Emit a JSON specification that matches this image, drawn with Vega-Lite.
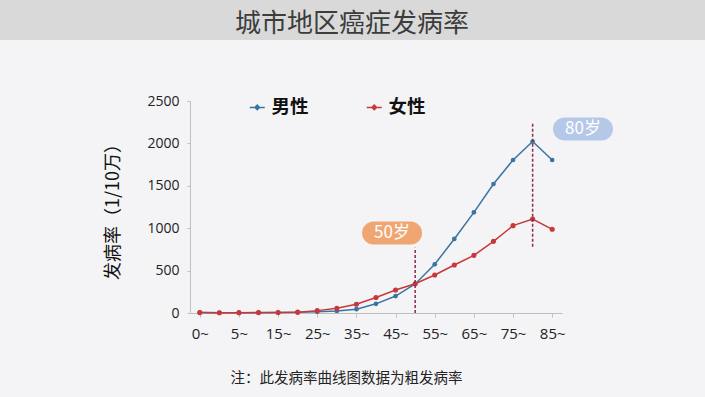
{
  "$schema": "https://vega.github.io/schema/vega-lite/v6.json",
  "width": 372,
  "height": 212,
  "autosize": {"type": "none"},
  "padding": {"left": 190, "top": 101, "right": 143, "bottom": 84},
  "background": "#f4f4f6",
  "config": {"view": {"stroke": null}, "font": "Noto Sans CJK SC"},
  "datasets": {
    "rates": [
      {"age": "0~", "i": 0, "sex": "男性", "v": 5}, {"age": "1~", "i": 1, "sex": "男性", "v": 3}, {"age": "5~", "i": 2, "sex": "男性", "v": 3}, {"age": "10~", "i": 3, "sex": "男性", "v": 4}, {"age": "15~", "i": 4, "sex": "男性", "v": 5}, {"age": "20~", "i": 5, "sex": "男性", "v": 8}, {"age": "25~", "i": 6, "sex": "男性", "v": 15}, {"age": "30~", "i": 7, "sex": "男性", "v": 25}, {"age": "35~", "i": 8, "sex": "男性", "v": 45}, {"age": "40~", "i": 9, "sex": "男性", "v": 108}, {"age": "45~", "i": 10, "sex": "男性", "v": 200}, {"age": "50~", "i": 11, "sex": "男性", "v": 342}, {"age": "55~", "i": 12, "sex": "男性", "v": 574}, {"age": "60~", "i": 13, "sex": "男性", "v": 873}, {"age": "65~", "i": 14, "sex": "男性", "v": 1187}, {"age": "70~", "i": 15, "sex": "男性", "v": 1521}, {"age": "75~", "i": 16, "sex": "男性", "v": 1804}, {"age": "80~", "i": 17, "sex": "男性", "v": 2022}, {"age": "85~", "i": 18, "sex": "男性", "v": 1804},
      {"age": "0~", "i": 0, "sex": "女性", "v": 5}, {"age": "1~", "i": 1, "sex": "女性", "v": 3}, {"age": "5~", "i": 2, "sex": "女性", "v": 4}, {"age": "10~", "i": 3, "sex": "女性", "v": 5}, {"age": "15~", "i": 4, "sex": "女性", "v": 6}, {"age": "20~", "i": 5, "sex": "女性", "v": 10}, {"age": "25~", "i": 6, "sex": "女性", "v": 28}, {"age": "30~", "i": 7, "sex": "女性", "v": 55}, {"age": "35~", "i": 8, "sex": "女性", "v": 104}, {"age": "40~", "i": 9, "sex": "女性", "v": 183}, {"age": "45~", "i": 10, "sex": "女性", "v": 271}, {"age": "50~", "i": 11, "sex": "女性", "v": 345}, {"age": "55~", "i": 12, "sex": "女性", "v": 448}, {"age": "60~", "i": 13, "sex": "女性", "v": 566}, {"age": "65~", "i": 14, "sex": "女性", "v": 680}, {"age": "70~", "i": 15, "sex": "女性", "v": 845}, {"age": "75~", "i": 16, "sex": "女性", "v": 1030}, {"age": "80~", "i": 17, "sex": "女性", "v": 1108}, {"age": "85~", "i": 18, "sex": "女性", "v": 987}
    ],
    "notes": [
      {"age": "50~", "i": 11, "from": 0, "to": 770, "lab": "50岁", "lx": 9.82, "ly": 943},
      {"age": "80~", "i": 17, "from": 782, "to": 2256, "lab": "80岁", "lx": 19.57, "ly": 2170}
    ],
    "heading": [
      {"text": "城市地区癌症发病率", "x1": -10.3, "x2": 26, "y1": 3219, "y2": 3691, "tx": 7.77, "ty": 3408}
    ]
  },
  "layer": [
    {
      "data": {"name": "heading"},
      "mark": {"type": "rect", "color": "#d9d9d9"},
      "encoding": {
        "x": {"field": "x1", "type": "quantitative", "scale": {"domain": [-0.5, 18.5], "nice": false, "zero": false}},
        "x2": {"field": "x2"},
        "y": {"field": "y1", "type": "quantitative", "scale": {"domain": [0, 2500], "nice": false}},
        "y2": {"field": "y2"}
      }
    },
    {
      "data": {"name": "heading"},
      "mark": {"type": "text", "fontSize": 26, "color": "#3c3c3c", "baseline": "middle", "align": "center"},
      "encoding": {
        "x": {"field": "tx", "type": "quantitative"},
        "y": {"field": "ty", "type": "quantitative"},
        "text": {"field": "text"}
      }
    },
    {
      "data": {"name": "rates"},
      "transform": [{"filter": "datum.sex === '男性'"}],
      "mark": {"type": "line", "strokeWidth": 1.5, "point": {"filled": true, "size": 22}},
      "encoding": {
        "x": {"field": "i", "type": "quantitative", "scale": {"domain": [-0.5, 18.5], "nice": false, "zero": false},
          "axis": {"values": [0,1,2,3,4,5,6,7,8,9,10,11,12,13,14,15,16,17,18],
            "labelExpr": "datum.value % 2 == 0 ? ['0~','1~','5~','10~','15~','20~','25~','30~','35~','40~','45~','50~','55~','60~','65~','70~','75~','80~','85~'][datum.value] : ''",
            "labelOverlap": false, "labelFlush": false, "grid": false, "domainColor": "#bfbfbf", "tickColor": "#bfbfbf", "tickSize": 4,
            "labelFont": "Open Sans", "labelFontSize": 15, "labelColor": "#222", "labelPadding": 9,
            "title": "注：此发病率曲线图数据为粗发病率", "titleFontSize": 14.5, "titleFontWeight": "normal", "titleColor": "#222", "titlePadding": 30, "titleX": 156}},
        "y": {"field": "v", "type": "quantitative", "scale": {"domain": [0, 2500], "nice": false},
          "axis": {"values": [0, 500, 1000, 1500, 2000, 2500], "format": "d", "grid": false, "domainColor": "#bfbfbf", "tickColor": "#bfbfbf", "tickSize": 3,
            "labelFont": "Open Sans", "labelFontSize": 14, "labelColor": "#222", "labelPadding": 8,
            "title": "发病率（1/10万）", "titleFontSize": 18, "titleFontWeight": "normal", "titleColor": "#111", "titlePadding": 24}},
        "color": {"field": "sex", "type": "nominal", "scale": {"domain": ["男性", "女性"], "range": ["#3a74a0", "#c8383a"]},
          "legend": {"orient": "none", "legendX": 58, "legendY": -3, "direction": "horizontal", "title": null,
            "symbolType": "M-1,0L-0.3,0M0.3,0L1,0M0,-0.3L0.3,0L0,0.3L-0.3,0Z", "symbolSize": 225, "symbolStrokeWidth": 1.5,
            "labelFontSize": 18.5, "labelFontWeight": "bold", "labelColor": "#111", "labelOffset": 5, "columnPadding": 54}}
      }
    },
    {
      "data": {"name": "rates"},
      "transform": [{"filter": "datum.sex === '女性'"}],
      "mark": {"type": "line", "strokeWidth": 1.5, "point": {"filled": true, "size": 26}},
      "encoding": {
        "x": {"field": "i", "type": "quantitative"},
        "y": {"field": "v", "type": "quantitative"},
        "color": {"field": "sex", "type": "nominal"}
      }
    },
    {
      "data": {"name": "notes"},
      "mark": {"type": "rule", "color": "#8a2b4e", "strokeWidth": 1.5, "strokeDash": [3, 2]},
      "encoding": {
        "x": {"field": "i", "type": "quantitative"},
        "y": {"field": "from", "type": "quantitative"},
        "y2": {"field": "to"}
      }
    },
    {
      "data": {"name": "notes"},
      "mark": {"type": "point", "filled": true, "opacity": 1, "size": 3600, "shape": "M-0.615,-0.385L0.615,-0.385A0.385,0.385 0 0 1 0.615,0.385L-0.615,0.385A0.385,0.385 0 0 1 -0.615,-0.385Z"},
      "encoding": {
        "x": {"field": "lx", "type": "quantitative"},
        "y": {"field": "ly", "type": "quantitative"},
        "fill": {"field": "lab", "type": "nominal", "scale": {"domain": ["50岁", "80岁"], "range": ["#f0a672", "#b6c8e8"]}, "legend": null}
      }
    },
    {
      "data": {"name": "notes"},
      "mark": {"type": "text", "color": "#ffffff", "fontSize": 17, "baseline": "middle", "align": "center"},
      "encoding": {
        "x": {"field": "lx", "type": "quantitative"},
        "y": {"field": "ly", "type": "quantitative"},
        "text": {"field": "lab"}
      }
    }
  ]
}
